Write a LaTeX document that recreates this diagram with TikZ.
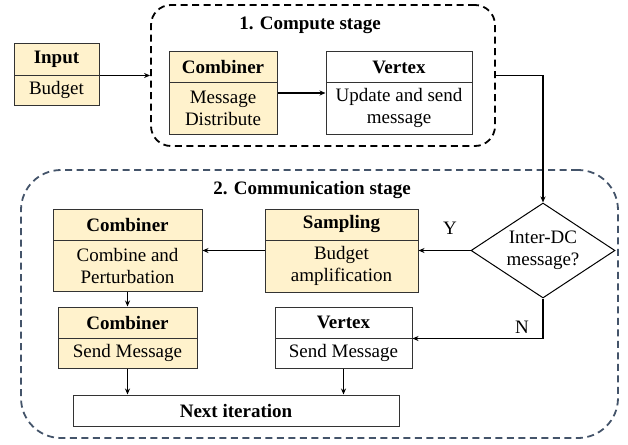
\documentclass[tikz,border=0pt]{standalone}
\usepackage{fontspec}
\setmainfont{Liberation Serif}
\usetikzlibrary{shapes.geometric,arrows.meta}
\definecolor{boxfill}{HTML}{FFF2CC}
\definecolor{slate}{HTML}{44546A}
\newcommand{\fs}{\fontsize{19}{22}\selectfont}
\begin{document}
\begin{tikzpicture}[x=1pt,y=-1pt,
  font=\fs,
  part/.style={draw=black!80,line width=1pt,inner sep=0pt,align=center},
  yel/.style={part,fill=boxfill},
  wht/.style={part,fill=white},
  bf/.style={font=\fs\bfseries},
  arr/.style={line width=1.2pt,-{Stealth[length=6pt,width=5pt]}},
  stagebox/.style={line width=1.8pt,dash pattern=on 7pt off 4.5pt,rounded corners=#1,inner sep=0pt},
]
\useasboundingbox (0,0) rectangle (628,444);
% stage boxes
\node[stagebox=20pt,draw=black,minimum width=344pt,minimum height=141pt] (cs) at (323,75.5) {};
\node[stagebox=40pt,draw=slate,minimum width=597pt,minimum height=268pt] (cm) at (319.5,304) {};
\node[bf] (cst) at (310,25) {1. Compute stage};
\node[bf] (cmt) at (312,190) {2. Communication stage};
% input
\node[yel,bf,minimum width=85pt,minimum height=31pt] (inh) at (56.5,59.5) {Input};
\node[yel,minimum width=85pt,minimum height=30pt] (inb) at (56.5,90) {Budget};
% compute combiner
\node[yel,bf,minimum width=108pt,minimum height=30pt] (c1h) at (223,67) {Combiner};
\node[yel,minimum width=108pt,minimum height=52pt] (c1b) at (223,108) {Message\\Distribute};
% vertex 1
\node[wht,bf,minimum width=146pt,minimum height=30pt] (v1h) at (399,67) {Vertex};
\node[wht,minimum width=146pt,minimum height=52pt] (v1b) at (399,108) {Update and send\\message};
% comm combiner 1
\node[yel,bf,minimum width=149pt,minimum height=31pt] (c2h) at (127.5,224.5) {Combiner};
\node[yel,minimum width=149pt,minimum height=51pt] (c2b) at (127.5,265.5) {Combine and\\Perturbation};
% sampling
\node[yel,bf,minimum width=153pt,minimum height=31pt] (sh) at (341.5,224.5) {Sampling};
\node[yel,minimum width=153pt,minimum height=52pt] (sb) at (341.5,266) {Budget\\amplification};
% diamond
\node[draw=black,line width=1pt,diamond,aspect=1.5,inner sep=0pt,minimum width=144pt,minimum height=95pt,align=center,fill=white] (dia) at (543,250.5) {Inter-DC\\message?};
% comm combiner 2
\node[yel,bf,minimum width=139pt,minimum height=31pt] (c3h) at (127.5,322.5) {Combiner};
\node[yel,minimum width=139pt,minimum height=30pt] (c3b) at (127.5,353) {Send Message};
% vertex 2
\node[wht,bf,minimum width=137pt,minimum height=31pt] (v2h) at (343.5,322.5) {Vertex};
\node[wht,minimum width=137pt,minimum height=30pt] (v2b) at (343.5,353) {Send Message};
% next iteration
\node[wht,bf,minimum width=326pt,minimum height=31pt] (nx) at (236,410.5) {Next iteration};
% labels
\node (ylab) at (450,228) {Y};
\node (nlab) at (522,327) {N};
% connectors
\draw[arr] (inh.south east) -- (cs.west |- inh.south east);
\draw[arr] ([yshift=15pt]c1b.east) -- ([yshift=15pt]c1b.east -| v1b.west);
\draw[arr] (cs.east) -| (dia.north);
\draw[arr] (dia.west) -- (dia.west -| sb.east);
\draw[arr] (sb.west |- dia.west) -- (c2b.east |- dia.west);
\draw[arr] (dia.south) |- (v2h.south east);
\draw[arr] (c2b.south) -- (c3h.north);
\draw[arr] (c3b.south) -- (c3b.south |- nx.north);
\draw[arr] (v2b.south) -- (v2b.south |- nx.north);
\end{tikzpicture}
\end{document}
